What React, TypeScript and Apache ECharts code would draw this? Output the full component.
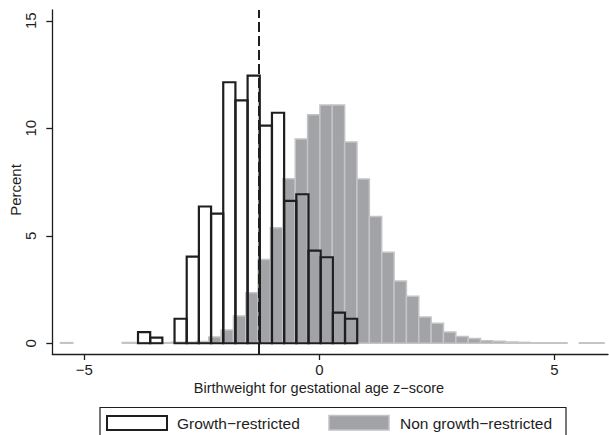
import React, { useEffect, useRef } from "react";
import * as echarts from "echarts";

// Growth-restricted histogram (outlined bars)
const GR_START = -3.857;
const GR_WIDTH = 0.259;
const grValues = [0.52, 0.26, 0, 1.14, 4.03, 6.36, 6.03, 12.14, 11.3, 12.45, 10.12, 10.72, 6.62, 6.93, 4.31, 4.0, 1.42, 1.14];

// Non growth-restricted histogram (grey bars)
const NGR_START = -5.506;
const NGR_WIDTH = 0.2628;
const ngrValues = [
  0.03, 0, 0, 0, 0, 0.03, 0.03, 0.03, 0.03, 0.05, 0.05, 0.08, 0.29, 0.62, 1.27, 2.35, 3.89, 5.37, 7.65, 9.5,
  10.63, 11.08, 11.08, 9.36, 7.64, 5.9, 4.23, 2.89, 2.19, 1.22, 0.93, 0.52, 0.31, 0.22, 0.12, 0.09, 0.06, 0.04,
  0.02, 0.02, 0.02, 0, 0.02, 0.02,
];

const xTicks = [-5, 0, 5];
const yTicks = [0, 5, 10, 15];
const cutoff = -1.28;

const xTitle = "Birthweight for gestational age z\u2212score";
const yTitle = "Percent";
const legendNames = ["Growth\u2212restricted", "Non growth\u2212restricted"];

const FONT = "'Liberation Sans', Arial, Helvetica, sans-serif";
const INK = "#1e1e1e";
const GREY_FILL = "#a2a3a7";
const GREY_EDGE = "#c4c4c6";

function bins(start: number, width: number, vals: number[]) {
  return vals.map((v, i) => [start + i * width, start + (i + 1) * width, v]);
}

function makeRender(style: any) {
  return (params: any, api: any) => {
    const v = api.value(2);
    if (!v) return null;
    const p0 = api.coord([api.value(0), v]);
    const p1 = api.coord([api.value(1), 0]);
    return {
      type: "rect",
      shape: { x: p0[0], y: p0[1], width: p1[0] - p0[0], height: p1[1] - p0[1] },
      style,
    };
  };
}

export default function App() {
  const ref = useRef<HTMLDivElement>(null);
  useEffect(() => {
    if (!ref.current) return;
    const chart = echarts.init(ref.current, null, { renderer: "svg" });
    const fmt = (v: number) => String(v).replace("-", "\u2212");
    chart.setOption({
      animation: false,
      backgroundColor: "#ffffff",
      textStyle: { fontFamily: FONT },
      grid: { left: 52.3, right: 1, top: 10, bottom: 81, containLabel: false },
      xAxis: {
        type: "value",
        min: -5.68,
        max: 6.14,
        axisLine: { show: true, onZero: false, lineStyle: { color: INK, width: 1.3 } },
        axisTick: { show: true, length: 6, customValues: xTicks, lineStyle: { color: INK, width: 1.3 } },
        axisLabel: {
          customValues: xTicks,
          formatter: fmt,
          color: INK,
          fontSize: 15,
          fontFamily: FONT,
          margin: 8,
        },
        splitLine: { show: false },
      },
      yAxis: {
        type: "value",
        min: -0.5,
        max: 15.5,
        axisLine: { show: true, onZero: false, lineStyle: { color: INK, width: 1.3 } },
        axisTick: { show: true, length: 6, customValues: yTicks, lineStyle: { color: INK, width: 1.3 } },
        axisLabel: {
          customValues: yTicks,
          rotate: 90,
          color: INK,
          fontSize: 15,
          fontFamily: FONT,
          margin: 14,
        },
        splitLine: { show: false },
      },
      series: [
        {
          type: "custom",
          name: legendNames[1],
          renderItem: makeRender({ fill: GREY_FILL, stroke: GREY_EDGE, lineWidth: 1.5 }),
          data: bins(NGR_START, NGR_WIDTH, ngrValues),
          encode: { x: [0, 1], y: 2 },
          z: 1,
        },
        {
          type: "custom",
          name: legendNames[0],
          renderItem: makeRender({ fill: "none", stroke: INK, lineWidth: 2.2 }),
          data: bins(GR_START, GR_WIDTH, grValues),
          encode: { x: [0, 1], y: 2 },
          z: 2,
          markLine: {
            silent: true,
            symbol: ["none", "none"],
            label: { show: false },
            lineStyle: { color: INK, width: 2, type: [10, 4] },
            data: [{ xAxis: cutoff }],
          },
        },
      ],
      graphic: [
        {
          type: "text",
          x: 15,
          y: 190,
          rotation: Math.PI / 2,
          style: { text: yTitle, fill: INK, font: `15px ${FONT}`, align: "center", verticalAlign: "middle" },
        },
        {
          type: "text",
          x: 319,
          y: 388,
          style: { text: xTitle, fill: INK, font: `14.5px ${FONT}`, align: "center", verticalAlign: "middle" },
        },
        {
          type: "rect",
          shape: { x: 100, y: 407.5, width: 466, height: 40 },
          style: { fill: "none", stroke: INK, lineWidth: 1.2 },
        },
        {
          type: "rect",
          shape: { x: 107, y: 416, width: 60, height: 14 },
          style: { fill: "#ffffff", stroke: INK, lineWidth: 2 },
        },
        {
          type: "text",
          x: 177,
          y: 423,
          style: { text: legendNames[0], fill: INK, font: `15.5px ${FONT}`, align: "left", verticalAlign: "middle" },
        },
        {
          type: "rect",
          shape: { x: 329, y: 415.5, width: 60, height: 14.5 },
          style: { fill: GREY_FILL, stroke: GREY_EDGE, lineWidth: 1.5 },
        },
        {
          type: "text",
          x: 400,
          y: 423,
          style: { text: legendNames[1], fill: INK, font: `15.5px ${FONT}`, align: "left", verticalAlign: "middle" },
        },
      ],
    });
    return () => chart.dispose();
  }, []);
  return (
    <div
      ref={ref}
      style={{ position: "fixed", left: 0, top: 0, width: 609, height: 435, background: "#fff" }}
    />
  );
}
